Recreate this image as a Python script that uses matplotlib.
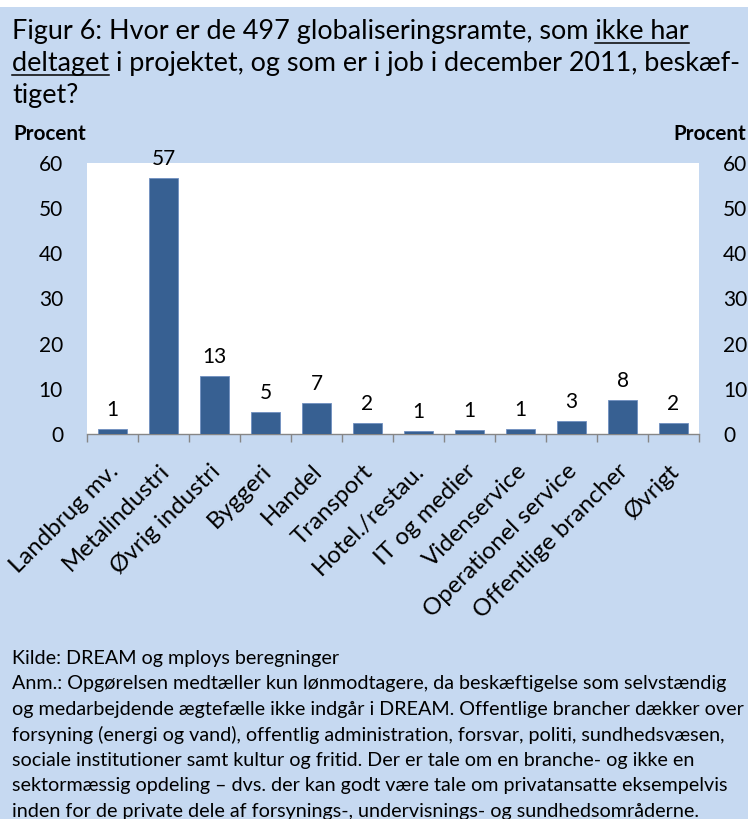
import numpy as np
import matplotlib
matplotlib.use("Agg")
import matplotlib.pyplot as plt
from matplotlib.patches import Rectangle
from matplotlib.lines import Line2D
from matplotlib.transforms import ScaledTranslation

# ---------------- data ----------------
categories = ["Landbrug mv.", "Metalindustri", "Øvrig industri", "Byggeri", "Handel",
              "Transport", "Hotel./restau.", "IT og medier", "Videnservice",
              "Operationel service", "Offentlige brancher", "Øvrigt"]
values = [1.0, 56.6, 12.8, 4.8, 6.8, 2.4, 0.6, 0.8, 1.0, 2.8, 7.6, 2.4]
yticks = [0, 10, 20, 30, 40, 50, 60]
y_label = "Procent"

title_line1_plain = "Figur 6: Hvor er de 497 globaliseringsramte, som "
title_line1_ul = "ikke har"
title_line2_ul = "deltaget"
title_line2_plain = " i projektet, og som er i job i december 2011, beskæf-"
title_line3 = "tiget?"

note_lines = [
    "Kilde: DREAM og mploys beregninger",
    "Anm.: Opgørelsen medtæller kun lønmodtagere, da beskæftigelse som selvstændig",
    "og medarbejdende ægtefælle ikke indgår i DREAM. Offentlige brancher dækker over",
    "forsyning (energi og vand), offentlig administration, forsvar, politi, sundhedsvæsen,",
    "sociale institutioner samt kultur og fritid. Der er tale om en branche- og ikke en",
    "sektormæssig opdeling – dvs. der kan godt være tale om privatansatte eksempelvis",
    "inden for de private dele af forsynings-, undervisnings- og sundhedsområderne.",
]

# ---------------- layout ----------------
W, H, DPI = 748, 819, 100
FONT = ["Lato", "DejaVu Sans"]
BG = "#C6D9F1"
BAR = "#376092"
AXC = "#868686"

plt.rcParams["font.family"] = FONT
fig = plt.figure(figsize=(W / DPI, H / DPI), dpi=DPI, facecolor="white")
fig.patches.append(Rectangle((0, 0), 1, 1 - 7 / H, transform=fig.transFigure,
                             facecolor=BG, edgecolor="none", zorder=-10))
renderer = fig.canvas.get_renderer()


def fx(x):
    return x / W


def fy(y):
    return 1 - y / H


def text_w(s, size, **kw):
    t = fig.text(0, 0, s, fontsize=size, **kw)
    w = t.get_window_extent(renderer).width
    t.remove()
    return w


def fit(s, target, **kw):
    return 10 * target / text_w(s, 10, **kw)


# title
title_size = fit(title_line1_plain + title_line1_ul, 677)
base = [39, 71, 103]
t1 = fig.text(fx(12), fy(base[0]), title_line1_plain + title_line1_ul,
              fontsize=title_size, va="baseline", ha="left")
t2 = fig.text(fx(12), fy(base[1]), title_line2_ul + title_line2_plain,
              fontsize=title_size, va="baseline", ha="left")
fig.text(fx(12), fy(base[2]), title_line3, fontsize=title_size, va="baseline", ha="left")

e1 = t1.get_window_extent(renderer)
w_ul1 = text_w(title_line1_ul, title_size)
ul_off = 4
fig.add_artist(Line2D([fx(e1.x1 - w_ul1), fx(e1.x1)],
                      [fy(base[0] + ul_off)] * 2, transform=fig.transFigure,
                      color="black", lw=1.1))
e2 = t2.get_window_extent(renderer)
w_ul2 = text_w(title_line2_ul, title_size)
fig.add_artist(Line2D([fx(e2.x0), fx(e2.x0 + w_ul2)],
                      [fy(base[1] + ul_off)] * 2, transform=fig.transFigure,
                      color="black", lw=1.1))

# "Procent" labels
proc_size = fit(y_label, 73, fontweight="bold")
fig.text(fx(13), fy(140), y_label, fontsize=proc_size, fontweight="bold",
         va="baseline", ha="left")
fig.text(fx(746), fy(140), y_label, fontsize=proc_size, fontweight="bold",
         va="baseline", ha="right")

# notes
note_size = fit(note_lines[1], 717)
for i, line in enumerate(note_lines):
    fig.text(fx(12), fy(664 + 25.5 * i), line, fontsize=note_size,
             va="baseline", ha="left")

# ---------------- axes ----------------
L, R, T, B = 87, 699, 163, 434
ax = fig.add_axes([fx(L), fy(B), (R - L) / W, (B - T) / H])
ax.set_facecolor("white")
x = np.arange(len(categories))
ax.bar(x, values, width=0.58, color=BAR, edgecolor="#6F8FC0", linewidth=0.6, zorder=3)
ax.set_xlim(-0.5, len(categories) - 0.5)
ax.set_ylim(yticks[0], yticks[-1])

tick_size = 15
for xi, v in zip(x, values):
    ax.annotate(f"{v:.0f}", (xi, v), xytext=(0, 13 * 0.72), textcoords="offset points",
                ha="center", va="baseline", fontsize=tick_size, color="black")

for s in ["left", "right", "top"]:
    ax.spines[s].set_visible(False)
ax.spines["bottom"].set_color(AXC)
ax.spines["bottom"].set_linewidth(1.0)

ax.set_yticks(yticks)
ax.tick_params(axis="y", length=0, pad=24 * 0.72, labelsize=tick_size)

cat_size = fit("Øvrig industri", 144)
ax.set_xticks(x)
ax.set_xticklabels(categories, rotation=45, ha="right", rotation_mode="anchor",
                   fontsize=cat_size)
ax.tick_params(axis="x", which="major", length=0, pad=19)
ax.set_xticks(np.arange(-0.5, len(categories), 1), minor=True)
ax.tick_params(axis="x", which="minor", length=8 * 0.72, color=AXC, width=1.0,
               direction="out")
offset = ScaledTranslation(-5 / DPI, 0, fig.dpi_scale_trans)
for lbl in ax.get_xticklabels():
    lbl.set_transform(lbl.get_transform() + offset)

ax2 = ax.twinx()
ax2.set_ylim(yticks[0], yticks[-1])
ax2.set_yticks(yticks)
for s in ["left", "right", "top", "bottom"]:
    ax2.spines[s].set_visible(False)
ax2.tick_params(axis="y", length=0, pad=24 * 0.72, labelsize=tick_size)

fig.savefig("out.png", dpi=DPI, facecolor=fig.get_facecolor())
